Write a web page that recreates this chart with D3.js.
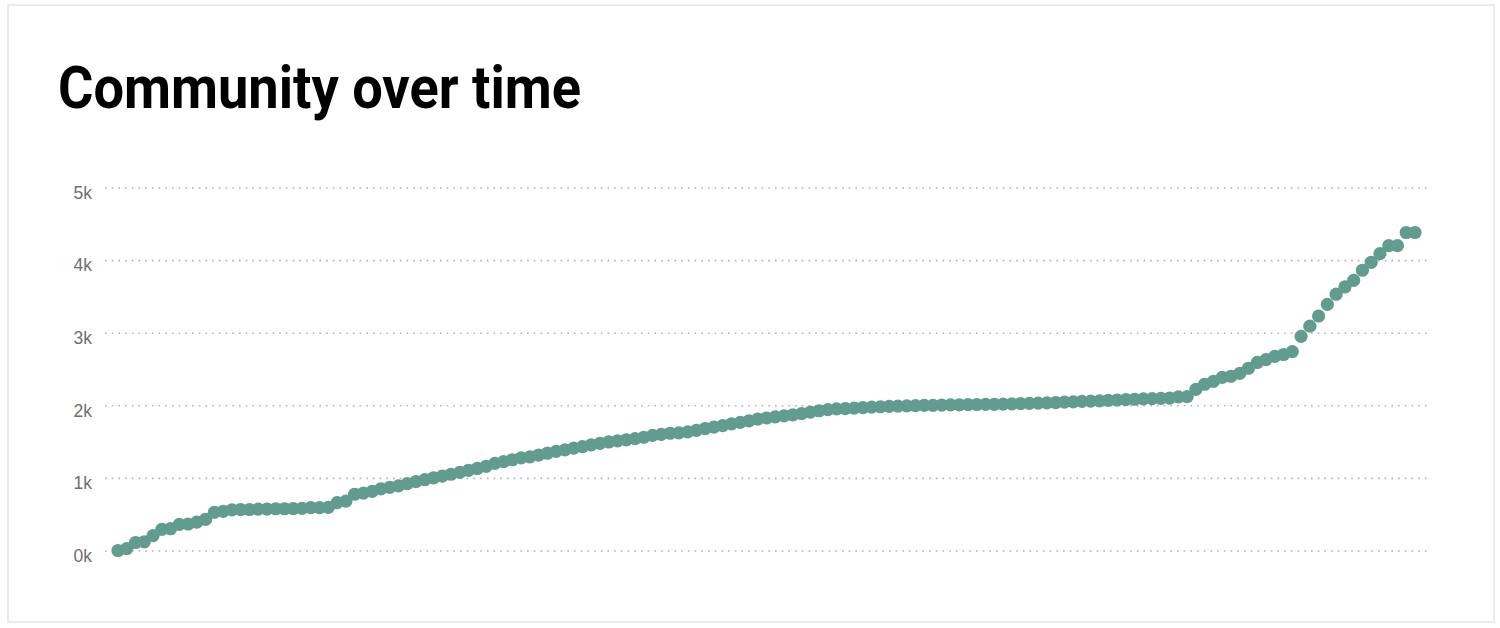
<!DOCTYPE html>
<html>
<head>
<meta charset="utf-8">
<script src="https://cdn.jsdelivr.net/npm/d3@7"></script>
<style>
  html, body { margin: 0; padding: 0; background: #fff; }
  svg { display: block; }
</style>
</head>
<body>
<svg id="chart"></svg>
<script>
// members over time, one value per sample
const members = [
    0, 25, 110, 120, 205, 290, 300, 360, 365, 390,
    430, 525, 540, 560, 565, 565, 570, 570, 575, 575,
    578, 580, 590, 590, 595, 660, 680, 775, 790, 815,
    850, 870, 890, 920, 950, 975, 1000, 1025, 1050, 1075,
    1105, 1130, 1160, 1200, 1225, 1250, 1275, 1290, 1315, 1340,
    1365, 1385, 1410, 1430, 1455, 1475, 1495, 1510, 1525, 1540,
    1560, 1585, 1600, 1615, 1620, 1635, 1655, 1680, 1700, 1720,
    1745, 1765, 1785, 1810, 1825, 1840, 1855, 1868, 1885, 1905,
    1925, 1940, 1950, 1955, 1960, 1968, 1975, 1980, 1985, 1988,
    1992, 1996, 1998, 2000, 2003, 2006, 2007, 2009, 2011, 2012,
    2014, 2017, 2020, 2023, 2026, 2029, 2033, 2038, 2043, 2048,
    2053, 2058, 2062, 2068, 2073, 2078, 2083, 2088, 2092, 2096,
    2100, 2115, 2120, 2220, 2290, 2330, 2385, 2400, 2440, 2510,
    2590, 2630, 2675, 2700, 2740, 2950, 3090, 3230, 3390, 3530,
    3630, 3720, 3860, 3970, 4090, 4200, 4200, 4380, 4380
];
const yTicks = [0, 1000, 2000, 3000, 4000, 5000];
const title = "Community over time";

const W = 1500, H = 628;
const svg = d3.select("#chart")
    .attr("width", W)
    .attr("height", H);

// card
svg.append("rect")
    .attr("x", 8).attr("y", 5)
    .attr("width", 1486).attr("height", 617)
    .attr("fill", "#fff")
    .attr("stroke", "#ebebeb")
    .attr("stroke-width", 2);

// title is a bit narrower than plain Roboto, squeeze it to the same width
svg.append("text")
    .attr("x", 58)
    .attr("y", 108)
    .attr("font-family", "Roboto, sans-serif")
    .attr("font-weight", 700)
    .attr("font-size", 59)
    .attr("textLength", 523)
    .attr("lengthAdjust", "spacingAndGlyphs")
    .attr("fill", "#000")
    .text(title);

const x = d3.scalePoint()
    .domain(d3.range(members.length))
    .range([118, 1415]);

const y = d3.scaleLinear()
    .domain([0, 5000])
    .range([550.5, 187.5]);

// grid + labels
const yAxis = d3.axisLeft(y)
    .tickValues(yTicks)
    .tickSize(-(1427 - 105))
    .tickPadding(13)
    .tickFormat(d => (d / 1000) + "k");

const gy = svg.append("g")
    .attr("transform", "translate(105,0)")
    .call(yAxis);

gy.select(".domain").remove();
gy.selectAll(".tick line")
    .attr("stroke", "#b3b3b3")
    .attr("stroke-width", 1.6)
    .attr("stroke-dasharray", "1.6,5.1");
gy.selectAll(".tick text")
    .attr("font-family", "'Liberation Sans', Arial, sans-serif")
    .attr("font-size", 17.5)
    .attr("fill", "#6f6f6f")
    .attr("dy", "0.62em");

// points
svg.append("g")
    .selectAll("circle")
    .data(members)
    .enter()
    .append("circle")
    .attr("cx", (d, i) => x(i))
    .attr("cy", d => y(d))
    .attr("r", 6.6)
    .attr("fill", "#629c8e");
</script>
</body>
</html>
